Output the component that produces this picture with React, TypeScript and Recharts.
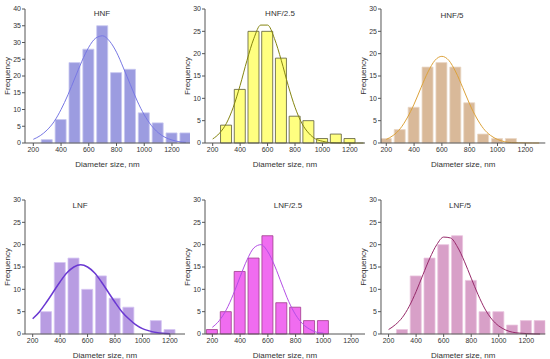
import { Bar, ComposedChart, Line, XAxis, YAxis } from 'recharts';

// bin centres (nm) and counts
const hnfBins = [300, 400, 500, 600, 700, 800, 900, 1000, 1100, 1200, 1300];
const hnfCounts = [1, 7, 24, 28, 35, 21, 22, 9, 6, 3, 3];
const hnf25Bins = [300, 400, 500, 600, 700, 800, 900, 1000, 1100, 1200];
const hnf25Counts = [4, 12, 25, 25, 19, 6, 5, 1, 2, 1];
const hnf5Bins = [200, 300, 400, 500, 600, 700, 800, 900, 1000, 1100];
const hnf5Counts = [1, 3, 8, 17, 18, 17, 9, 2, 1, 1];
const lnfBins = [300, 400, 500, 600, 700, 800, 900, 1000, 1100, 1200];
const lnfCounts = [5, 16, 17, 10, 13, 8, 6, 0, 3, 1];
const lnf25Bins = [200, 300, 400, 500, 600, 700, 800, 900, 1000];
const lnf25Counts = [1, 5, 14, 17, 22, 7, 6, 3, 3];
const lnf5Bins = [300, 400, 500, 600, 700, 800, 900, 1000, 1100, 1200, 1300];
const lnf5Counts = [1, 13, 17, 20, 22, 12, 5, 5, 2, 3, 3];

// fitted curves, read every 50 nm starting at 200
const fitX = [200, 250, 300, 350, 400, 450, 500, 550, 600, 650, 700, 750, 800, 850, 900, 950, 1000, 1050, 1100, 1150, 1200, 1250, 1300];
const hnfFit = [1.1, 2.2, 3.9, 6.4, 10.0, 14.4, 19.4, 24.4, 28.6, 31.3, 32.0, 30.4, 27.1, 22.4, 17.4, 12.5, 8.4, 5.3, 3.1, 1.7, 0.9, 0.4, 0.2];
const hnf25Fit = [0.9, 2.2, 4.4, 8.0, 12.9, 18.5, 23.4, 26.4, 26.4, 23.4, 18.5, 12.9, 8.0, 4.4, 2.2, 0.9, 0.4, 0.1, 0.04, 0.01, 0, 0, 0];
const hnf5Fit = [0.8, 1.7, 3.2, 5.6, 8.7, 12.4, 15.9, 18.5, 19.4, 18.5, 15.9, 12.4, 8.7, 5.6, 3.2, 1.7, 0.8, 0.3, 0.1, 0.05, 0.02, 0, 0];
const lnfFit = [3.4, 5.0, 7.1, 9.4, 11.7, 13.7, 15.0, 15.5, 15.0, 13.7, 11.7, 9.4, 7.1, 5.0, 3.4, 2.1, 1.2, 0.7, 0.35, 0.17, 0.08];
const lnf25Fit = [1.5, 3.0, 5.4, 8.8, 12.8, 16.6, 19.3, 20.0, 18.4, 15.2, 11.2, 7.3, 4.3, 2.3, 1.1, 0.4, 0.2];
const lnf5Fit = [1.0, 2.1, 3.7, 6.2, 9.5, 13.3, 17.0, 20.0, 21.7, 21.5, 19.5, 16.3, 12.5, 8.8, 5.6, 3.3, 1.8, 0.9, 0.4, 0.2, 0.1, 0.02, 0];

const xTicks = [200, 400, 600, 800, 1000, 1200];
const font = 'Arial, "Liberation Sans", sans-serif';

interface PanelProps {
  bins: number[];
  counts: number[];
  fit: number[];
  yMax: number;
  domain: [number, number];
  left: number;
  top: number;
  width: number;
  height: number;
  marginTop: number;
  fill: string;
  stroke: string;
  curve: string;
  curveWidth?: number;
}

function Panel(p: PanelProps) {
  const data = p.bins.map((x, i) => ({ x, count: p.counts[i] }));
  const fitData = fitX.slice(0, p.fit.length).map((x, i) => ({ x, fit: p.fit[i] }));
  const yTicks: number[] = [];
  for (let v = 0; v <= p.yMax; v += 5) yTicks.push(v);
  const tick = { fontSize: 7, fill: '#333', fontFamily: font };

  return (
    <div style={{ position: 'absolute', left: p.left, top: p.top }}>
      <ComposedChart
        width={p.width}
        height={p.height}
        data={data}
        margin={{ top: p.marginTop, right: 5, left: 0, bottom: 0 }}
      >
        <XAxis
          xAxisId="bars"
          type="number"
          dataKey="x"
          domain={p.domain}
          allowDataOverflow
          ticks={xTicks}
          tickSize={3}
          tickMargin={1}
          height={32}
          stroke="#555"
          tick={tick}
          label={{ value: 'Diameter size, nm', position: 'insideBottom', offset: 8, fontSize: 8, fill: '#333', fontFamily: font }}
        />
        {/* hidden twin axis so the curve points do not shrink the bar width */}
        <XAxis xAxisId="fit" type="number" dataKey="x" domain={p.domain} allowDataOverflow hide />
        <YAxis
          type="number"
          domain={[0, p.yMax]}
          ticks={yTicks}
          width={25}
          tickSize={3}
          tickMargin={1}
          stroke="#555"
          tick={tick}
          label={{ value: 'Frequency', angle: -90, position: 'insideLeft', offset: 7, fontSize: 8, fill: '#333', fontFamily: font, style: { textAnchor: 'middle' } }}
        />
        <Bar xAxisId="bars" dataKey="count" fill={p.fill} stroke={p.stroke} strokeWidth={0.8} barSize={11} isAnimationActive={false} />
        <Line
          xAxisId="fit"
          data={fitData}
          dataKey="fit"
          type="monotone"
          dot={false}
          stroke={p.curve}
          strokeWidth={p.curveWidth ?? 1}
          isAnimationActive={false}
        />
      </ComposedChart>
    </div>
  );
}

const titles = [
  { text: 'HNF', x: 102, y: 13 },
  { text: 'HNF/2.5', x: 280, y: 13 },
  { text: 'HNF/5', x: 452, y: 15 },
  { text: 'LNF', x: 80, y: 205 },
  { text: 'LNF/2.5', x: 288, y: 205 },
  { text: 'LNF/5', x: 460, y: 205 },
];

export default function App() {
  return (
    <div style={{ position: 'absolute', left: 0, top: 0, width: 550, height: 359, background: '#fff', fontFamily: font }}>
      <Panel bins={hnfBins} counts={hnfCounts} fit={hnfFit} yMax={40} domain={[140, 1330]}
        left={0} top={0} width={195} height={175} marginTop={9}
        fill="#9c9ce0" stroke="#c8c8f0" curve="#7878e4" />
      <Panel bins={hnf25Bins} counts={hnf25Counts} fit={hnf25Fit} yMax={30} domain={[144, 1310]}
        left={180} top={0} width={190} height={175} marginTop={9}
        fill="#ffff80" stroke="#5a5a3a" curve="#858510" />
      <Panel bins={hnf5Bins} counts={hnf5Counts} fit={hnf5Fit} yMax={30} domain={[162, 1344]}
        left={355.7} top={0} width={194.3} height={175} marginTop={9}
        fill="#d9b999" stroke="#ead8c6" curve="#dca23a" />
      <Panel bins={lnfBins} counts={lnfCounts} fit={lnfFit} yMax={30} domain={[144, 1310]}
        left={0} top={180} width={190} height={186} marginTop={20}
        fill="#b89ce2" stroke="#d4c4f2" curve="#6a38d2" curveWidth={1.5} />
      <Panel bins={lnf25Bins} counts={lnf25Counts} fit={lnf25Fit} yMax={30} domain={[147, 1300]}
        left={180} top={180} width={190} height={186} marginTop={20}
        fill="#f06cf0" stroke="#a03c8c" curve="#b44ee6" />
      <Panel bins={lnf5Bins} counts={lnf5Counts} fit={lnf5Fit} yMax={30} domain={[145, 1338]}
        left={355.7} top={180} width={194.3} height={186} marginTop={20}
        fill="#d8a0c8" stroke="#eac4de" curve="#962868" />
      {titles.map((t) => (
        <div
          key={t.text}
          style={{ position: 'absolute', left: t.x, top: t.y, transform: 'translate(-50%, -50%)', fontSize: 8, color: '#333', whiteSpace: 'nowrap' }}
        >
          {t.text}
        </div>
      ))}
    </div>
  );
}
